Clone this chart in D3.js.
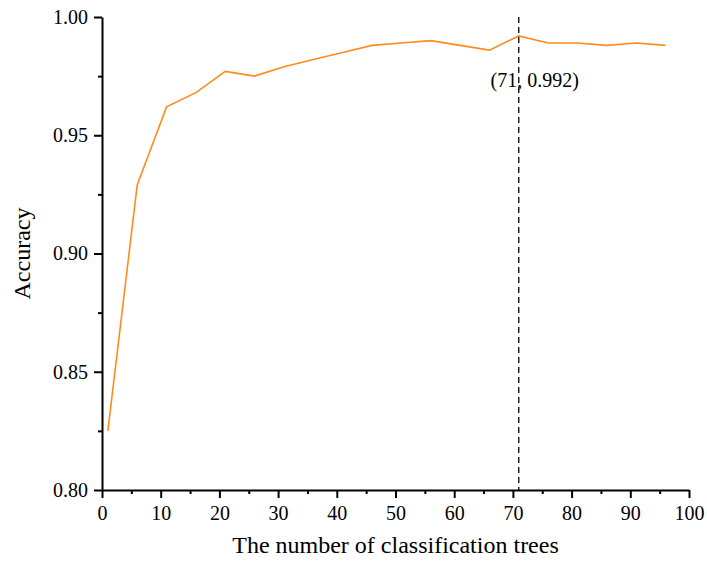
<!DOCTYPE html>
<html>
<head>
<meta charset="utf-8">
<script src="https://cdn.jsdelivr.net/npm/d3@7"></script>
<style>
  body { margin: 0; background: #fff; }
</style>
</head>
<body>
<svg id="chart"></svg>
<script>
// Data
const trees = [1, 6, 11, 16, 21, 26, 31, 36, 41, 46, 51, 56, 61, 66, 71, 76, 81, 86, 91, 96];
const accuracy = [0.825, 0.929, 0.962, 0.968, 0.977, 0.975, 0.979, 0.982, 0.985, 0.988,
  0.989, 0.990, 0.988, 0.986, 0.992, 0.989, 0.989, 0.988, 0.989, 0.988];
const xTicks = [0, 10, 20, 30, 40, 50, 60, 70, 80, 90, 100];
const yTicks = [0.80, 0.85, 0.90, 0.95, 1.00];
const bestTrees = 71;
const bestAccuracy = 0.992;

const serif = "'Liberation Serif', 'Times New Roman', 'DejaVu Serif', serif";

const width = 707,
  height = 563,
  margin = { top: 17, right: 18, bottom: 73, left: 102 };

const svg = d3.select("#chart")
  .attr("width", width)
  .attr("height", height)
  .attr("font-family", serif);

const x = d3.scaleLinear().domain([0, 100]).range([margin.left, width - margin.right]);
const y = d3.scaleLinear().domain([0.8, 1.0]).range([height - margin.bottom, margin.top]);

// minor ticks
const xMinor = d3.range(5, 100, 10);
const yMinor = d3.range(0.825, 1.0, 0.05);

svg.append("g")
  .attr("transform", `translate(0,${y(0.8)})`)
  .call(d3.axisBottom(x).tickValues(xMinor).tickSize(4).tickFormat(""))
  .call((g) => g.select(".domain").remove())
  .call((g) => g.selectAll("line").attr("stroke-width", 2));

svg.append("g")
  .attr("transform", `translate(${x(0)},0)`)
  .call(d3.axisLeft(y).tickValues(yMinor).tickSize(4).tickFormat(""))
  .call((g) => g.select(".domain").remove())
  .call((g) => g.selectAll("line").attr("stroke-width", 2));

// x axis
svg.append("g")
  .attr("transform", `translate(0,${y(0.8)})`)
  .call(d3.axisBottom(x).tickValues(xTicks).tickSize(8).tickSizeOuter(0).tickPadding(8))
  .attr("font-family", serif)
  .attr("font-size", 20)
  .call((g) => g.select(".domain").attr("stroke-width", 2))
  .call((g) => g.selectAll("line").attr("stroke-width", 2));

// y axis
svg.append("g")
  .attr("transform", `translate(${x(0)},0)`)
  .call(d3.axisLeft(y).tickValues(yTicks).tickSize(8).tickSizeOuter(0).tickPadding(6).tickFormat(d3.format(".2f")))
  .attr("font-family", serif)
  .attr("font-size", 20)
  .call((g) => g.select(".domain").attr("stroke-width", 2))
  .call((g) => g.selectAll("line").attr("stroke-width", 2));

// line
const line = d3.line()
  .x((d, i) => x(trees[i]))
  .y((d) => y(d));

svg.append("path")
  .datum(accuracy)
  .attr("fill", "none")
  .attr("stroke", "#ff8b1f")
  .attr("stroke-width", 1.6)
  .attr("d", line);

// best point marker
svg.append("line")
  .attr("x1", x(bestTrees))
  .attr("x2", x(bestTrees))
  .attr("y1", y(1.0))
  .attr("y2", y(0.8))
  .attr("stroke", "#000")
  .attr("stroke-width", 1.3)
  .attr("stroke-dasharray", "6,4");

svg.append("text")
  .attr("x", x(bestTrees) + 16)
  .attr("y", 87)
  .attr("text-anchor", "middle")
  .attr("font-size", 20)
  .text(`(${bestTrees}, ${bestAccuracy})`);

// axis titles
svg.append("text")
  .attr("x", (x(0) + x(100)) / 2)
  .attr("y", 553)
  .attr("text-anchor", "middle")
  .attr("font-size", 24)
  .text("The number of classification trees");

svg.append("text")
  .attr("transform", `translate(30,${(y(0.8) + y(1.0)) / 2}) rotate(-90)`)
  .attr("text-anchor", "middle")
  .attr("font-size", 24)
  .text("Accuracy");
</script>
</body>
</html>
